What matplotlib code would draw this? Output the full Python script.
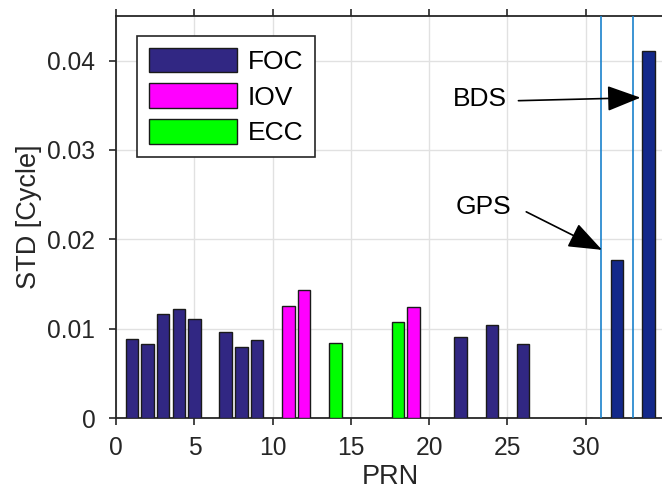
import matplotlib
matplotlib.use("Agg")
import matplotlib.pyplot as plt

# PRN groups and their STD values [cycle]
FOC_PRN = [1, 2, 3, 4, 5, 7, 8, 9, 22, 24, 26, 30]
FOC_STD = [0.00887, 0.00826, 0.01166, 0.01223, 0.01113, 0.00958, 0.00800, 0.00875,
           0.00906, 0.01040, 0.00824, 0.00004]
IOV_PRN = [11, 12, 19]
IOV_STD = [0.01257, 0.01433, 0.01247]
ECC_PRN = [14, 18]
ECC_STD = [0.00845, 0.01074]
GPS_PRN = [32]
GPS_STD = [0.0177]
BDS_PRN = [34]
BDS_STD = [0.04104]
SEPARATORS = [31, 33]

TEXT = "#262626"
plt.rcParams["font.family"] = ["Liberation Sans", "DejaVu Sans"]

fig = plt.figure(figsize=(6.62, 4.92), dpi=100)
ax = fig.add_axes([0.1755, 0.1504, 0.8275, 0.8171])

kw = dict(width=0.8, edgecolor="#1a1a1a", linewidth=1.0, zorder=3)
b1 = ax.bar(FOC_PRN, FOC_STD, color="#312783", label="FOC", **kw)
b2 = ax.bar(IOV_PRN, IOV_STD, color="#ff00ff", label="IOV", **kw)
b3 = ax.bar(ECC_PRN, ECC_STD, color="#00ff00", label="ECC", **kw)
ax.bar(GPS_PRN, GPS_STD, color="#13288a", **kw)
ax.bar(BDS_PRN, BDS_STD, color="#13288a", **kw)

for s in SEPARATORS:
    ax.axvline(s, color="#1a82cc", lw=1.2, zorder=4)

ax.set_xlim(0, 35)
ax.set_ylim(0, 0.045)
ax.set_xticks([0, 5, 10, 15, 20, 25, 30])
ax.set_yticks([0, 0.01, 0.02, 0.03, 0.04])
ax.set_yticklabels(["0", "0.01", "0.02", "0.03", "0.04"])
ax.grid(True, color="#e1e1e1", lw=1.0, zorder=0)
ax.set_axisbelow(True)

for side in ["left", "bottom", "top", "right"]:
    ax.spines[side].set_color(TEXT)
    ax.spines[side].set_linewidth(1.3)
ax.tick_params(direction="out", length=5, width=1.2, colors=TEXT,
               labelsize=17.7, top=True, labeltop=False)
ax.tick_params(axis="x", pad=8)
ax.tick_params(axis="y", pad=10)

ax.set_xlabel("PRN", fontsize=19.5, color=TEXT, labelpad=3)
ax.set_ylabel("STD [Cycle]", fontsize=19.5, color=TEXT, labelpad=4)

arrow = dict(arrowstyle="-|>,head_length=2.1,head_width=0.8",
             color="black", lw=1.2, shrinkA=0, shrinkB=0)
ax.annotate("", xy=(33.5, 0.03586), xytext=(25.7, 0.03552), arrowprops=arrow, zorder=6)
ax.text(23.25, 0.03574, "BDS", fontsize=19, ha="center", va="center", color="black", zorder=6)
ax.annotate("", xy=(31.04, 0.01882), xytext=(26.2, 0.02308), arrowprops=arrow, zorder=6)
ax.text(23.44, 0.02364, "GPS", fontsize=19, ha="center", va="center", color="black", zorder=6)

leg = ax.legend(handles=[b1, b2, b3], loc="upper left",
                bbox_to_anchor=(136.7 / 662, 1 - 35.7 / 492),
                bbox_transform=fig.transFigure, fontsize=19,
                handlelength=3.35, handleheight=1.05, handletextpad=0.4,
                labelspacing=0.36, borderpad=0.45, borderaxespad=0,
                fancybox=False, framealpha=1, edgecolor=TEXT)
leg.get_frame().set_linewidth(1.2)

fig.savefig("out.png", dpi=100)
